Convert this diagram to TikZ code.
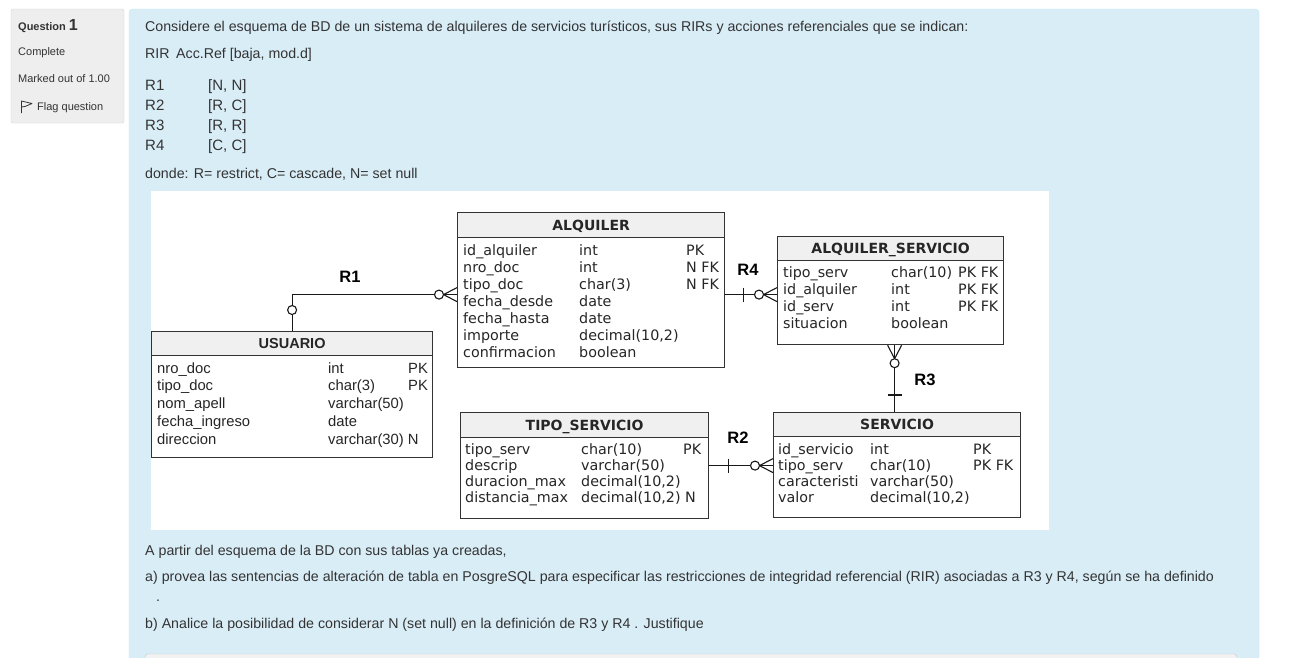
\documentclass[tikz,border=0pt]{standalone}
\usepackage{fontspec}
\setmainfont{Liberation Sans}
\newfontfamily\dv{DejaVu Sans}
\definecolor{txt}{HTML}{333333}
\definecolor{infobg}{HTML}{D9EDF7}
\definecolor{infobd}{HTML}{BCE8F1}
\definecolor{panelbg}{HTML}{EEEEEE}
\definecolor{panelbd}{HTML}{D6D6D6}
\definecolor{hdrbg}{HTML}{F0F0F0}
\definecolor{lineC}{HTML}{333333}
\definecolor{barbg}{HTML}{F2F2F2}
\definecolor{barbd}{HTML}{C8C8C8}
\newcommand\trow[9]{\node[#9] (#1) at (#2,#3) {\makebox[#4pt][l]{#6}\makebox[#5pt][l]{#7}#8};}
\tikzset{
  web/.style={inner sep=0pt, anchor=base west, text=txt, font=\fontsize{14.2}{17}\selectfont},
  webr/.style={web, font=\fontsize{15}{17}\selectfont},
  side/.style={inner sep=0pt, anchor=base west, text=txt, font=\fontsize{11}{13}\selectfont},
  tbl/.style={draw=lineC, line width=1.2pt, fill=white, inner sep=0pt, anchor=north west},
  hdr/.style={draw=lineC, line width=1.2pt, fill=hdrbg, inner sep=0pt, anchor=north west,
    text height=10.4pt, text depth=0pt, text=black!85,
    font=\dv\bfseries\fontsize{14}{17}\selectfont},
  uhdr/.style={hdr, font=\bfseries\fontsize{14.5}{17}\selectfont},
  cell/.style={inner sep=0pt, anchor=base west, text=black!85, font=\dv\fontsize{14.3}{17}\selectfont},
  ucell/.style={inner sep=0pt, anchor=base west, text=black!85, font=\fontsize{14.8}{17}\selectfont},
  rlab/.style={inner sep=0pt, text=black, font=\bfseries\fontsize{16.5}{16}\selectfont},
  conn/.style={draw=black!90, line width=1.1pt},
  zeromany/.pic={
    \draw[conn] (0,0) -- (-13.5,0);
    \draw[conn] (-13.5,0) -- (0,7) (-13.5,0) -- (0,-7);
    \draw[conn, fill=white] (-18,0) circle[radius=4.5pt];
  },
  onebar/.pic={\draw[conn] (0,-7) -- (0,7);},
  zeroc/.pic={\draw[conn, fill=white] (0,0) circle[radius=4.5pt];}
}
\begin{document}
\begin{tikzpicture}[x=1pt, y=-1pt]
\useasboundingbox (0,0) rectangle (1305,657);
\fill[white] (0,0) rectangle (1305,657);

% left question panel
\draw[panelbd, fill=panelbg, rounded corners=2pt] (11,9) rectangle (124,123);
\node[side] (qnum) at (18,30) {\bfseries Question {\fontsize{16}{16}\selectfont 1}};
\node[side] (qstate) at (18,55.5) {Complete};
\node[side] (qmark) at (18,82.5) {Marked out of 1.00};
\draw[txt, line width=0.8pt, line join=round] (21.5,113) -- (21.5,101) -- (32,103.5) -- (25,106.5) -- (21.5,107);
\node[side] (qflag) at (37,110) {Flag question};

% main info panel
\draw[infobd, fill=infobg, rounded corners=4pt] (129,9) rectangle (1259,720);

\node[web] (t1) at (145,31.5) {Considere el esquema de BD de un sistema de alquileres de servicios turísticos, sus RIRs y acciones referenciales que se indican:};
\node[web] (t2) at (145,58.5) {\makebox[31pt][l]{RIR}Acc.Ref [baja, mod.d]};
\node[webr] (r1a) at (145,90) {R1};  \node[webr] (r1b) at (208,90) {[N, N]};
\node[webr] (r2a) at (145,110) {R2}; \node[webr] (r2b) at (208,110) {[R, C]};
\node[webr] (r3a) at (145,130) {R3}; \node[webr] (r3b) at (208,130) {[R, R]};
\node[webr] (r4a) at (145,150) {R4}; \node[webr] (r4b) at (208,150) {[C, C]};
\node[web] (t3) at (145,178) {donde: R= restrict, C= cascade, N= set null};

% diagram image
\fill[white] (151,191) rectangle (1049,530);

% ALQUILER
\node[tbl, minimum width=267pt, minimum height=155pt] (alq) at (457,212) {};
\node[hdr, minimum width=267pt, minimum height=25pt] (alqh) at (457,212) {ALQUILER};
\trow{a1}{463}{255}{116}{107}{id\_alquiler}{int}{PK}{cell}
\trow{a2}{463}{272}{116}{107}{nro\_doc}{int}{N FK}{cell}
\trow{a3}{463}{289}{116}{107}{tipo\_doc}{char(3)}{N FK}{cell}
\trow{a4}{463}{306}{116}{107}{fecha\_desde}{date}{}{cell}
\trow{a5}{463}{323}{116}{107}{fecha\_hasta}{date}{}{cell}
\trow{a6}{463}{340}{116}{107}{importe}{decimal(10,2)}{}{cell}
\trow{a7}{463}{357}{116}{107}{confirmacion}{boolean}{}{cell}

% ALQUILER_SERVICIO
\node[tbl, minimum width=226pt, minimum height=108pt] (alqs) at (777,236) {};
\node[hdr, minimum width=226pt, minimum height=24pt] (alqsh) at (777,236) {ALQUILER\_SERVICIO};
\trow{b1}{783}{277.5}{108}{67}{tipo\_serv}{char(10)}{PK FK}{cell}
\trow{b2}{783}{294.5}{108}{67}{id\_alquiler}{int}{PK FK}{cell}
\trow{b3}{783}{311.5}{108}{67}{id\_serv}{int}{PK FK}{cell}
\trow{b4}{783}{328.5}{108}{67}{situacion}{boolean}{}{cell}

% USUARIO
\node[tbl, minimum width=281pt, minimum height=126pt] (usr) at (151,331) {};
\node[uhdr, minimum width=281pt, minimum height=24pt] (usrh) at (151,331) {USUARIO};
\trow{u1}{157}{373}{171}{80}{nro\_doc}{int}{PK}{ucell}
\trow{u2}{157}{390.75}{171}{80}{tipo\_doc}{char(3)}{PK}{ucell}
\trow{u3}{157}{408.5}{171}{80}{nom\_apell}{varchar(50)}{}{ucell}
\trow{u4}{157}{426.25}{171}{80}{fecha\_ingreso}{date}{}{ucell}
\trow{u5}{157}{444}{171}{80}{direccion}{varchar(30) N}{}{ucell}

% TIPO_SERVICIO
\node[tbl, minimum width=248pt, minimum height=106pt] (tipo) at (460,412) {};
\node[hdr, minimum width=248pt, minimum height=25pt] (tipoh) at (460,412) {TIPO\_SERVICIO};
\trow{c1}{465}{454}{116}{102}{tipo\_serv}{char(10)}{PK}{cell}
\trow{c2}{465}{470}{116}{102}{descrip}{varchar(50)}{}{cell}
\trow{c3}{465}{486}{116}{102}{duracion\_max}{decimal(10,2)}{}{cell}
\trow{c4}{465}{502}{116}{102}{distancia\_max}{decimal(10,2) N}{}{cell}

% SERVICIO
\node[tbl, minimum width=247pt, minimum height=105pt] (serv) at (773,412) {};
\node[hdr, minimum width=247pt, minimum height=24pt] (servh) at (773,412) {SERVICIO};
\trow{d1}{778}{454}{92}{103}{id\_servicio}{int}{PK}{cell}
\trow{d2}{778}{470}{92}{103}{tipo\_serv}{char(10)}{PK FK}{cell}
\trow{d3}{778}{486}{92}{103}{caracteristi}{varchar(50)}{}{cell}
\trow{d4}{778}{502}{92}{103}{valor}{decimal(10,2)}{}{cell}

% R1: USUARIO -- ALQUILER
\draw[conn] (usr.north) |- ([yshift=-4.5pt]alq.west) coordinate (r1e);
\pic at ([yshift=21pt]usr.north) {zeroc};
\pic at (r1e) {zeromany};
\node[rlab] (lr1) at (350,277) {R1};

% R4: ALQUILER -- ALQUILER_SERVICIO
\draw[conn] ([yshift=-4.5pt]alq.east) coordinate (r4s) -- (r4s -| alqs.west) coordinate (r4e);
\pic at ([xshift=18pt]r4s) {onebar};
\pic at (r4e) {zeromany};
\node[rlab] (lr4) at (748,270) {R4};

% R2: TIPO_SERVICIO -- SERVICIO
\draw[conn] (tipo.east) coordinate (r2s) -- (r2s -| serv.west) coordinate (r2e);
\pic at ([xshift=19pt]r2s) {onebar};
\pic at (r2e) {zeromany};
\node[rlab] (lr2) at (738,438) {R2};

% R3: SERVICIO -- ALQUILER_SERVICIO
\draw[conn] ([xshift=-2.5pt]serv.north) coordinate (r3s) -- (r3s |- alqs.south) coordinate (r3e);
\pic[rotate=90] at ([yshift=17pt]r3s) {onebar};
\pic[rotate=90] at (r3e) {zeromany};
\node[rlab] (lr3) at (925,380) {R3};

% bottom texts
\node[web] (t4) at (145,555.5) {A partir del esquema de la BD con sus tablas ya creadas,};
\node[web] (t5) at (145,581.5) {a) provea las sentencias de alteración de tabla en PosgreSQL para especificar las restricciones de integridad referencial (RIR) asociadas a R3 y R4, según se ha definido};
\node[web] (t6) at (156,601) {.};
\node[web] (t7) at (145,628.5) {b) Analice la posibilidad de considerar N (set null) en la definición de R3 y R4 . Justifique};

% bottom bar
\draw[barbd, fill=barbg, rounded corners=3pt] (145,654) rectangle (1237,720);
\end{tikzpicture}
\end{document}
